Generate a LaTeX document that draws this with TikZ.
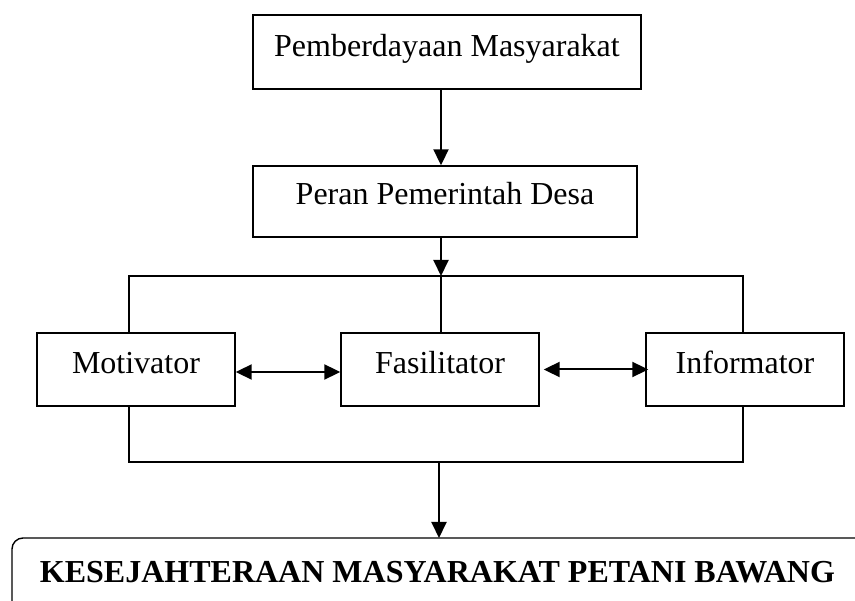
\documentclass[tikz,border=0pt]{standalone}
\usepackage{fontspec}
\setmainfont{Liberation Serif}
\usetikzlibrary{arrows.meta}
\begin{document}
\begin{tikzpicture}[x=1pt,y=-1pt,
  box/.style={draw, line width=1.4pt, inner sep=0pt, text depth=32pt,
    font=\fontsize{32}{36}\selectfont},
  tip/.style={Triangle[length=16pt,width=15pt]},
  conn/.style={line width=2pt, -{Triangle[length=16pt,width=15pt]}},
  dconn/.style={line width=2pt, {Triangle[length=16pt,width=15pt]}-{Triangle[length=16pt,width=15pt]}},
  plain/.style={line width=1.4pt}]
\useasboundingbox (0,0) rectangle (855,601);
\node[box, minimum width=388pt, text height=42pt] (pm) at (447,52) {Pemberdayaan Masyarakat};
\node[box, minimum width=384pt, text height=39pt] (pr) at (445,201.5) {Peran Pemerintah Desa};
\node[box, minimum width=198pt, text height=41pt] (mo) at (136,369.5) {Motivator};
\node[box, minimum width=198pt, text height=41pt] (fa) at (440,369.5) {Fasilitator};
\node[box, minimum width=198pt, text height=41pt] (in) at (745,369.5) {Informator};
\node[inner sep=0pt, text height=44pt, text depth=40pt,
  font=\fontsize{32}{36}\selectfont\bfseries,
  anchor=north] (ks) at (437.5,538) {KESEJAHTERAAN MASYARAKAT PETANI BAWANG};
\draw[plain, rounded corners=11pt] (920,538) -| (12,660);
\coordinate (jt) at (441,276);
\coordinate (tl) at (129,276);
\coordinate (tr) at (743,276);
\coordinate (bl) at (129,462);
\coordinate (br) at (743,462);
\coordinate (jb) at (439,462);
\draw[conn] (pm.south -| jt) -- (pr.north -| jt);
\draw[conn] (pr.south -| jt) -- (jt);
\draw[plain] (mo.north -| tl) -- (tl) -- (tr) -- (in.north -| tr);
\draw[plain] (jt) -- (fa.north -| jt);
\draw[plain] (mo.south -| bl) -- (bl) -- (br) -- (in.south -| br);
\draw[conn] (jb) -- (ks.north -| jb);
\draw[dconn] ([yshift=-2.5pt]mo.east) -- ([yshift=-2.5pt]fa.west);
\draw[dconn] ([xshift=4pt]fa.east) -- ([xshift=3pt]in.west);
\end{tikzpicture}
\end{document}
